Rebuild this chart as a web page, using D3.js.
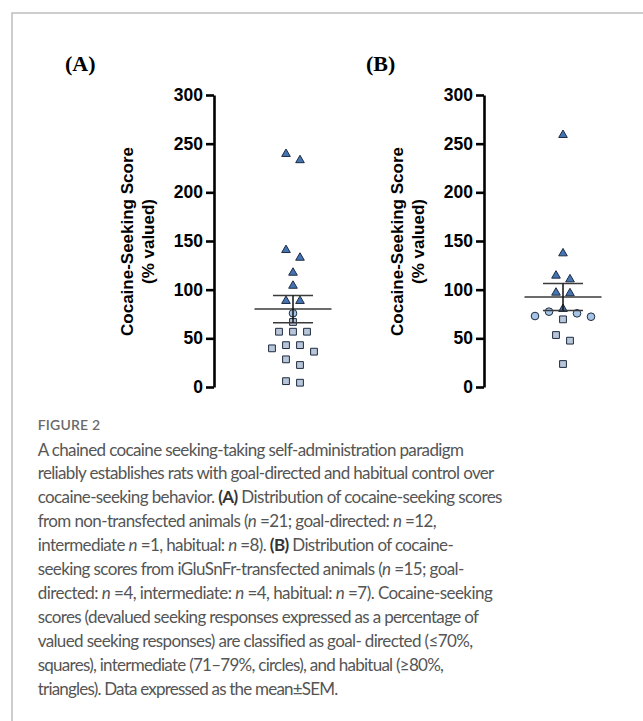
<!DOCTYPE html>
<html>
<head>
<meta charset="utf-8">
<script src="https://cdn.jsdelivr.net/npm/d3@7"></script>
<style>
  body { margin: 0; background: #fff; }
  svg { display: block; }
</style>
</head>
<body>
<script>
// tick values shared by both panels
const yTicks = [0, 50, 100, 150, 200, 250, 300];
const panels = ["(A)", "(B)"];

// (A) non-transfected animals, % valued
const goalA = [66.8, 56.8, 56.8, 56.8, 43, 43, 39.7, 36.3, 28.4, 22.6, 6, 4.4];
const interA = [75.7];
const habitA = [239.4, 233, 140.7, 132.8, 117.4, 104, 88.4, 88.4];

// (B) iGluSnFr-transfected animals, % valued
const goalB = [69.5, 53.4, 47.6, 23.6];
const interB = [77.4, 75.7, 72.9, 72.2];
const habitB = [258.9, 137.3, 114.4, 110.6, 96.9, 96.3, 80.1];

const captionTitle = "FIGURE 2";
const captionLines = [
  [["A chained cocaine seeking-taking self-administration paradigm"]],
  [["reliably establishes rats with goal-directed and habitual control over"]],
  [["cocaine-seeking behavior. "], ["(A)", "b"], [" Distribution of cocaine-seeking scores"]],
  [["from non-transfected animals ("], ["n", "i"], [" =21; goal-directed: "], ["n", "i"], [" =12,"]],
  [["intermediate "], ["n", "i"], [" =1, habitual: "], ["n", "i"], [" =8). "], ["(B)", "b"], [" Distribution of cocaine-"]],
  [["seeking scores from iGluSnFr-transfected animals ("], ["n", "i"], [" =15; goal-"]],
  [["directed: "], ["n", "i"], [" =4, intermediate: "], ["n", "i"], [" =4, habitual: "], ["n", "i"], [" =7). Cocaine-seeking"]],
  [["scores (devalued seeking responses expressed as a percentage of"]],
  [["valued seeking responses) are classified as goal- directed (\u226470%,"]],
  [["squares), intermediate (71\u201379%, circles), and habitual (\u226580%,"]],
  [["triangles). Data expressed as the mean\u00b1SEM."]]
];
// measured right edges of the caption lines in the figure
const captionRight = [464.3, 494.3, 502.7, 436.7, 454, 464.3, 492.7, 479, 472.7, 444, 338.3];

const W = 643, H = 721;
const svg = d3.select("body").append("svg")
  .attr("width", W)
  .attr("height", H);

// page frame (left + top rule)
svg.append("path")
  .attr("d", "M12," + H + "V13H" + W)
  .attr("fill", "none")
  .attr("stroke", "#bdbdbd")
  .attr("stroke-width", 1.5);

const y = d3.scaleLinear().domain([0, 300]).range([387, 95]);
const axisX = d3.scalePoint().domain(panels).range([214, 484]);
const colOffset = 79;

const sym = {
  goal: { type: d3.symbolSquare, size: 46, fill: "#b9c5d8" },
  inter: { type: d3.symbolCircle, size: 46, fill: "#a5c4e6" },
  habit: { type: d3.symbolTriangle, size: 32, fill: "#4474b4" }
};

// prism-like row layout: points closer than gap px share a row, row is centred
function dodge(points, gap, step) {
  const sorted = points.slice().sort((a, b) => b.v - a.v);
  const rows = [];
  sorted.forEach(p => {
    const last = rows[rows.length - 1];
    if (last && Math.abs(y(p.v) - y(last[0].v)) < gap) last.push(p);
    else rows.push([p]);
  });
  rows.forEach(row => {
    const n = row.length;
    const slots = d3.range(n).map(i => (i - (n - 1) / 2) * step);
    slots.sort((a, b) => Math.abs(a) - Math.abs(b) || a - b);
    row.forEach((p, i) => { p.dx = slots[i]; });
  });
  return points;
}

const panelData = [
  { name: "(A)", goal: goalA, inter: interA, habit: habitA, labelX: 65 },
  { name: "(B)", goal: goalB, inter: interB, habit: habitB, labelX: 366 }
];

panelData.forEach(pd => {
  const ax = axisX(pd.name);

  svg.append("text")
    .attr("x", pd.labelX)
    .attr("y", 71)
    .attr("font-family", "'Liberation Serif', 'Times New Roman', serif")
    .attr("font-weight", "bold")
    .attr("font-size", 22)
    .attr("fill", "#000")
    .text(pd.name);

  const g = svg.append("g").attr("transform", "translate(" + ax + ",0)");

  const axis = g.append("g")
    .call(d3.axisLeft(y).tickValues(yTicks).tickSize(8).tickSizeOuter(0).tickPadding(3));
  axis.select(".domain").attr("stroke", "#000").attr("stroke-width", 2.6);
  axis.selectAll(".tick line").attr("stroke", "#000").attr("stroke-width", 2.6);
  axis.selectAll(".tick text")
    .attr("font-family", "'Liberation Sans', Arial, sans-serif")
    .attr("font-weight", "bold")
    .attr("font-size", 17.5)
    .attr("fill", "#000");

  // y axis title, two lines
  [["Cocaine-Seeking Score", -87], ["(% valued)", -66]].forEach(([t, dx]) => {
    g.append("text")
      .attr("transform", "translate(" + dx + "," + (y(150) + 0.5) + ") rotate(-90)")
      .attr("text-anchor", "middle")
      .attr("dominant-baseline", "central")
      .attr("font-family", "'Liberation Sans', Arial, sans-serif")
      .attr("font-weight", "bold")
      .attr("font-size", 17)
      .text(t);
  });

  const pts = [];
  ["goal", "inter", "habit"].forEach(k => pd[k].forEach(v => pts.push({ v: v, k: k })));
  dodge(pts, 8, 14);

  g.selectAll("path.pt")
    .data(pts)
    .join("path")
    .attr("class", "pt")
    .attr("transform", d => "translate(" + (colOffset + d.dx) + "," + y(d.v) + ")")
    .attr("d", d => d3.symbol().type(sym[d.k].type).size(sym[d.k].size)())
    .attr("fill", d => sym[d.k].fill)
    .attr("stroke", "#1d2b40")
    .attr("stroke-width", 1);

  // mean +- SEM
  const all = pts.map(d => d.v);
  const m = d3.mean(all);
  const sem = d3.deviation(all) / Math.sqrt(all.length);
  const line = (x1, x2, y1, y2, c) => g.append("line")
    .attr("x1", x1).attr("x2", x2).attr("y1", y1).attr("y2", y2)
    .attr("stroke", c).attr("stroke-width", 1.5);
  line(colOffset - 38.5, colOffset + 38.5, y(m), y(m), "#3a3a3a");
  line(colOffset - 20, colOffset + 20, y(m + sem), y(m + sem), "#3a3a3a");
  line(colOffset - 20, colOffset + 20, y(m - sem), y(m - sem), "#3a3a3a");
  line(colOffset, colOffset, y(m + sem), y(m - sem), "#111");
});

// caption
const capX = 37.7;
svg.append("text")
  .attr("x", capX)
  .attr("y", 430)
  .attr("font-family", "Lato, 'Open Sans', sans-serif")
  .attr("font-weight", 600)
  .attr("font-size", 14)
  .attr("fill", "#6a6a6a")
  .attr("letter-spacing", 0.2)
  .text(captionTitle);

captionLines.forEach((segs, i) => {
  const t = svg.append("text")
    .attr("x", capX)
    .attr("y", 455.5 + i * 23.93)
    .attr("font-family", "Lato, 'Open Sans', sans-serif")
    .attr("font-size", 17)
    .attr("fill", "#555");
  segs.forEach(([s, f]) => {
    t.append("tspan")
      .attr("font-weight", f === "b" ? 700 : null)
      .attr("fill", f === "b" ? "#333" : null)
      .attr("font-style", f === "i" ? "italic" : null)
      .text(s);
  });
  // stretch/squeeze with letter spacing so the line ends where it does in the figure
  const natural = t.node().getComputedTextLength();
  const chars = segs.map(s => s[0]).join("").length;
  const ls = (captionRight[i] - capX - natural) / Math.max(1, chars - 1);
  t.attr("letter-spacing", ls.toFixed(3));
});
</script>
</body>
</html>
